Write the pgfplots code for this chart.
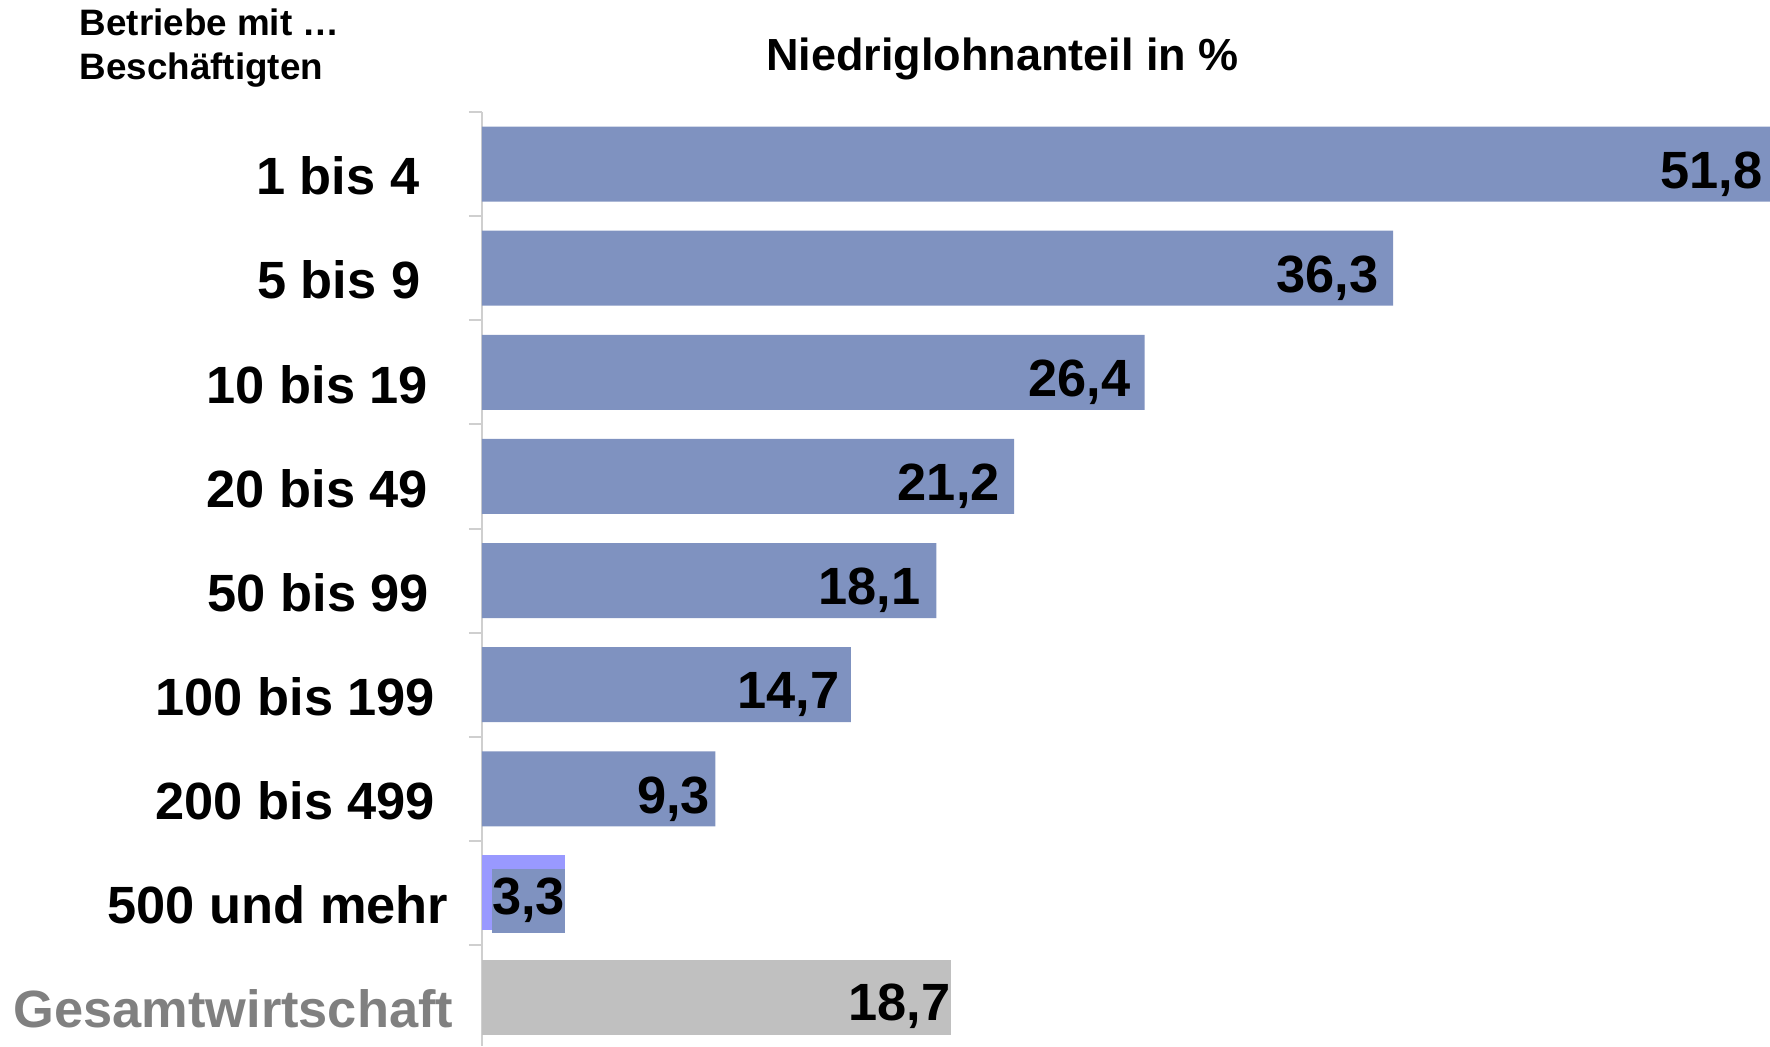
\documentclass[border=0pt]{standalone}
\usepackage{pgfplots}
\pgfplotsset{compat=1.18}
\usepackage{pgfplotstable}
\usepackage{fontspec}
\setmainfont{Liberation Sans}

\definecolor{barblue}{HTML}{7F92C0}
\definecolor{barlight}{HTML}{9999FF}
\definecolor{bargray}{HTML}{C0C0C0}
\definecolor{labgray}{HTML}{808080}
\definecolor{axgray}{HTML}{CFCFCF}

\newcommand{\lblfont}{\bfseries\fontsize{13.1}{15}\selectfont}

% Niedriglohnanteil in % nach Betriebsgroesse
\pgfplotstableread{
x    y lbl  off
51.8 0 51,8 4.75
36.3 1 36,3 3.5
26.4 2 26,4 3.4
21.2 3 21,2 3.4
18.1 4 18,1 3.75
14.7 5 14,7 2.75
9.3  6 9,3  1.15
}\sizes
\pgfplotstableread{
x   y lbl
3.3 7 3,3
}\bigfirms
\pgfplotstableread{
x    y lbl
18.7 8 18,7
}\total

\begin{document}
\begin{tikzpicture}
\begin{axis}[
    name=ax,
    width=322pt, height=233.5pt, scale only axis,
    xmin=0, xmax=51.31,
    ymin=-0.5, ymax=8.47, y dir=reverse,
    clip=false,
    hide x axis,
    axis y line*=left,
    y axis line style={-, draw=axgray, line width=0.6pt},
    ytick={0,...,8},
    yticklabels={1 bis 4\hspace*{8.5pt}, 5 bis 9\hspace*{8.25pt},
                 10 bis 19\hspace*{6.25pt}, 20 bis 49\hspace*{6.25pt},
                 50 bis 99\hspace*{6pt}, 100 bis 199\hspace*{4.5pt},
                 200 bis 499\hspace*{4.5pt}, 500 und mehr\hspace*{1.25pt},
                 \textcolor{labgray}{Gesamtwirtschaft}},
    major tick length=0pt,
    yticklabel style={font=\lblfont, anchor=east, inner sep=0pt,
                      xshift=-7pt, yshift=-3pt},
    extra y ticks={-0.5,0.5,...,7.5},
    extra y tick labels={},
    extra y tick style={major tick length=3.25pt, tick align=outside,
                        tick style={draw=axgray, line width=0.5pt}},
    xbar, bar shift=0pt, bar width=0.72,
    title={Niedriglohnanteil in \%},
    title style={at={(0.404,1)}, anchor=base, yshift=4.5pt,
                 font=\bfseries\fontsize{11.25}{13}\selectfont},
]
\addplot[fill=barblue, draw=none, nodes near coords,
    point meta=explicit symbolic,
    visualization depends on={\thisrow{off} \as \off},
    every node near coord/.append style={anchor=east, inner sep=0pt,
        xshift=-\off pt, yshift=-2.5pt, font=\lblfont}]
    table[x=x, y=y, meta=lbl]{\sizes};
\addplot[fill=barlight, draw=none, nodes near coords,
    point meta=explicit symbolic,
    every node near coord/.append style={anchor=east, fill=barblue,
        inner sep=0pt, minimum width=17.5pt, minimum height=16pt,
        xshift=0.25pt, yshift=-1.9pt, font=\lblfont}]
    table[x=x, y=y, meta=lbl]{\bigfirms};
\addplot[fill=bargray, draw=none, nodes near coords,
    point meta=explicit symbolic,
    every node near coord/.append style={anchor=east, inner sep=0pt,
        yshift=-2.25pt, font=\lblfont}]
    table[x=x, y=y, meta=lbl]{\total};
\end{axis}
\node[anchor=base west, inner sep=0pt, font=\bfseries\fontsize{9.2}{11}\selectfont]
    at ([xshift=-100.75pt, yshift=19.25pt]ax.north west) {Betriebe mit …};
\node[anchor=base west, inner sep=0pt, font=\bfseries\fontsize{9.2}{11}\selectfont]
    at ([xshift=-100.75pt, yshift=8.25pt]ax.north west) {Beschäftigten};
\pgfresetboundingbox
\path ([xshift=-120.5pt]ax.south west) rectangle ([yshift=28pt]ax.north east);
\end{tikzpicture}
\end{document}
